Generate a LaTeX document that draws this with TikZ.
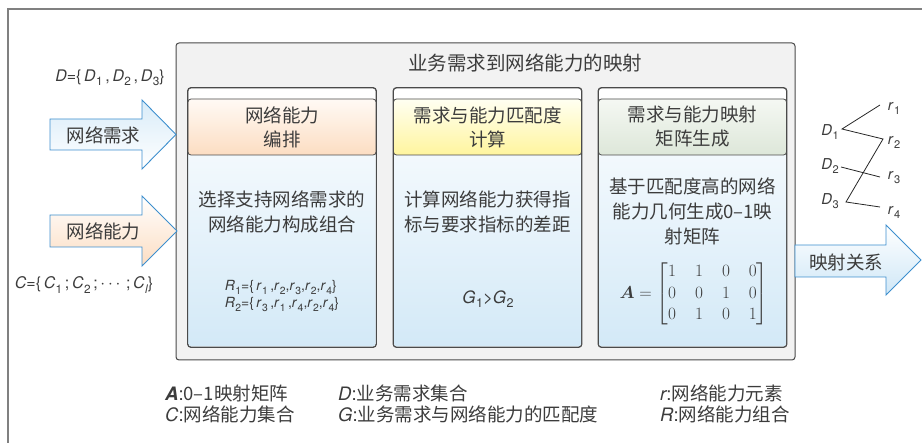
\documentclass[tikz,border=0pt]{standalone}
\usepackage{fontspec}
\usepackage{amsmath}
\usepackage{bm}
\newfontfamily\cjk{Noto Sans CJK SC}
\newfontfamily\hv{TeX Gyre Heros}
\makeatletter
\newcommand\sbs[2]{\textit{#1}\kern0.4pt\raisebox{-0.5ex}{\upshape\fontsize{\strip@pt\dimexpr0.74\dimexpr\f@size pt\relax\relax}{1}\selectfont #2}}
\makeatother
\definecolor{textc}{HTML}{3C3C3C}
\definecolor{framec}{HTML}{4A4A4A}
\definecolor{outerc}{HTML}{808080}
\definecolor{mainfill}{HTML}{F2F2F2}
\definecolor{bodytop}{HTML}{F3F9FD}
\definecolor{bodybot}{HTML}{D3E9F7}
\definecolor{arrowc}{HTML}{3D8FCE}
\definecolor{peach}{HTML}{FCDDC2}
\definecolor{yel}{HTML}{FFF59E}
\definecolor{grn}{HTML}{DDE7D9}
\definecolor{blu}{HTML}{CFE7F7}
\begin{document}
\begin{tikzpicture}[x=1pt,y=-1pt,
  every node/.style={text=textc, inner sep=0pt},
  cjkfont/.style={font=\cjk\fontsize{18.5pt}{25pt}\selectfont},
  colframe/.style={draw=framec, fill=white, rounded corners=3pt, line width=0.8pt,
    minimum width=188pt, minimum height=259pt},
  colbody/.style={top color=bodytop, bottom color=bodybot, rounded corners=3pt,
    minimum width=187pt, minimum height=194pt},
  colhead/.style={draw=framec, rounded corners=3pt, line width=0.8pt,
    minimum width=188pt, minimum height=56pt, align=center,
    font=\cjk\fontsize{18.5pt}{24pt}\selectfont},
  bodytext/.style={align=center, font=\cjk\fontsize{18.5pt}{25pt}\selectfont},
  arrowshape/.style={draw=arrowc, line width=0.9pt},
  mathlbl/.style={font=\hv\fontsize{16pt}{18pt}\selectfont},
  smalllbl/.style={font=\hv\fontsize{15pt}{18pt}\selectfont},
  leg/.style={anchor=west, font=\cjk\fontsize{18.5pt}{22pt}\selectfont},
  link/.style={draw=black!85, line width=0.8pt}]
\useasboundingbox (0,0) rectangle (922,443);
% outer frame
\draw[outerc, line width=1.5pt] (8,443) -- (8,9) -- (922,9);
% main box
\node[draw=framec, fill=mainfill, rounded corners=3pt, line width=1pt,
  minimum width=619pt, minimum height=317pt] (main) at (485.5,201.5) {};
\node[font=\cjk\fontsize{19.5pt}{22pt}\selectfont] (title) at (525,63) {业务需求到网络能力的映射};
% columns
\foreach \cx/\n/\hc/\htop in {282/1/peach/FFFAF5, 487.5/2/yel/FFFFF2, 692.5/3/grn/F5F8F3}{
  \node[colframe] (c\n) at (\cx,217.5) {};
  \node[colbody] (b\n) at (\cx,249.5) {};
  \definecolor{ht}{HTML}{\htop}
  \node[colhead, top color=ht, bottom color=\hc] (h\n) at (\cx,127) {};
  \draw[framec, line width=0.8pt, rounded corners=3pt] (c\n.north west) rectangle (c\n.south east);
}
\node[font=\cjk\fontsize{18.5pt}{24pt}\selectfont, align=center] (ht1) at (h1) {网络能力\\编排};
\node[font=\cjk\fontsize{18.5pt}{24pt}\selectfont, align=center] (ht2) at (h2) {需求与能力匹配度\\计算};
\node[font=\cjk\fontsize{18.5pt}{24pt}\selectfont, align=center] (ht3) at (h3) {需求与能力映射\\矩阵生成};
% body texts
\node[bodytext] (t1) at (282,211.5) {选择支持网络需求的\\网络能力构成组合};
\node[bodytext] (t2) at (487.5,211.5) {计算网络能力获得指\\标与要求指标的差距};
\node[bodytext] (t3) at (692.5,211.5) {基于匹配度高的网络\\能力几何生成0–1映\\射矩阵};
\node[align=left, font=\hv\fontsize{14pt}{16.5pt}\selectfont] (rset) at (282,296)
  {\sbs{R}{1}=\{\,\sbs{r}{1}\,,\sbs{r}{2},\sbs{r}{3},\sbs{r}{2},\sbs{r}{4}\}\\
   \sbs{R}{2}=\{\,\sbs{r}{3}\,,\sbs{r}{1}\,,\sbs{r}{4},\sbs{r}{2},\sbs{r}{4}\}};
\node[font=\hv\fontsize{17pt}{20pt}\selectfont] (gg) at (488,299) {\sbs{G}{1}>\sbs{G}{2}};
\node[font=\fontsize{16pt}{21.5pt}\selectfont] (mat) at (694,294)
  {\setlength\arraycolsep{9.5pt}$\bm{A}=\begin{bmatrix}1&1&0&0\\0&0&1&0\\0&1&0&1\end{bmatrix}$};
% left arrows
\shadedraw[arrowshape, top color=blu!80, bottom color=white]
  (50,119) -- (142,119) -- (142,100) -- (176,134.5) -- (142,169) -- (142,150) -- (50,150) -- cycle;
\node[cjkfont] (a1) at (103.5,135) {网络需求};
\shadedraw[arrowshape, top color=white, bottom color=peach]
  (50,215) -- (142,215) -- (142,196) -- (177,231) -- (142,266) -- (142,247) -- (50,247) -- cycle;
\node[cjkfont] (a2) at (103.5,231) {网络能力};
% right arrow
\shadedraw[arrowshape, top color=white, bottom color=blu]
  (795,245) -- (886,245) -- (886,225) -- (921,260) -- (886,295) -- (886,277) -- (795,277) -- cycle;
\node[cjkfont] (a3) at (846,262) {映射关系};
% sets
\node[mathlbl] (dset) at (110,78) {\textit{D}=\{\,\sbs{D}{1}\,,\,\sbs{D}{2}\,,\,\sbs{D}{3}\}};
\node[mathlbl] (cset) at (84,285) {\textit{C}=\{\,\sbs{C}{1}\,;\,\sbs{C}{2}\,;\,$\cdots$\,;\,\sbs{C}{\itshape l}\}};
% mapping D-r
\node[smalllbl] (D1) at (830,132) {\sbs{D}{1}};
\node[smalllbl] (D2) at (830,166) {\sbs{D}{2}};
\node[smalllbl] (D3) at (830,201) {\sbs{D}{3}};
\node[smalllbl] (R1) at (894,108) {\sbs{r}{1}};
\node[smalllbl] (R2) at (894,142) {\sbs{r}{2}};
\node[smalllbl] (R3) at (894,178) {\sbs{r}{3}};
\node[smalllbl] (R4) at (894,212) {\sbs{r}{4}};
\coordinate (d1) at (842,129);
\coordinate (d2) at (841,167);
\coordinate (d3) at (846,202);
\coordinate (p1) at (880,105);
\coordinate (p2) at (883,139);
\coordinate (p3) at (880,177);
\coordinate (p4) at (880,207);
\draw[link] (p1) -- (d1) -- (p2) -- (d3) -- (p4);
\draw[link] (d2) -- (p3);
% legend
\node[leg] (l1) at (165,393) {{\hv\bfseries\itshape A}{\hv :}0–1映射矩阵};
\node[leg] (l2) at (338,393) {{\hv\itshape D}{\hv :}业务需求集合};
\node[leg] (l3) at (660,393) {{\hv\itshape r}{\hv :}网络能力元素};
\node[leg] (l4) at (165,414) {{\hv\itshape C}{\hv :}网络能力集合};
\node[leg] (l5) at (338,414) {{\hv\itshape G}{\hv :}业务需求与网络能力的匹配度};
\node[leg] (l6) at (660,414) {{\hv\itshape R}{\hv :}网络能力组合};
\end{tikzpicture}
\end{document}
